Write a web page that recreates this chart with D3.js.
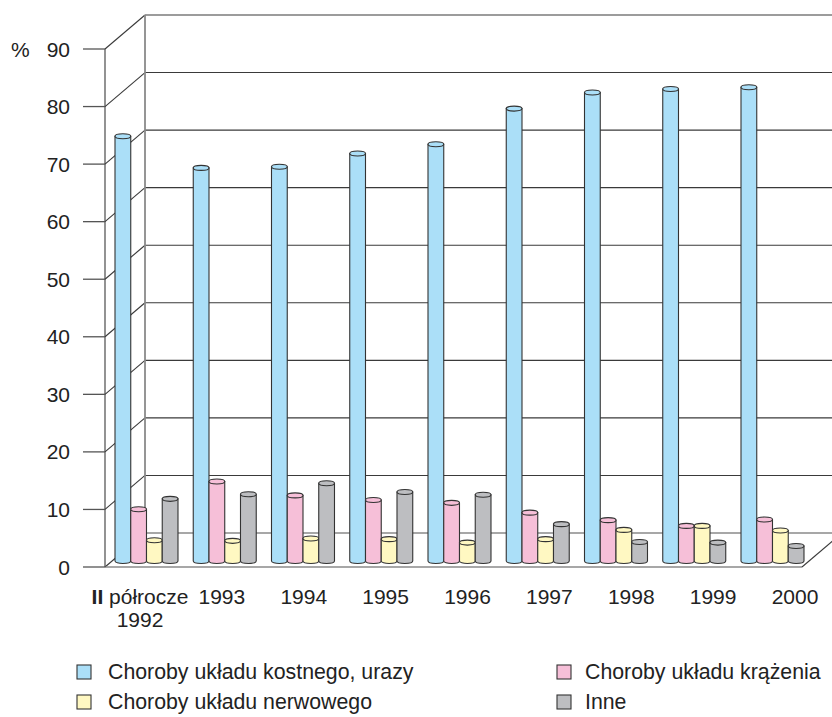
<!DOCTYPE html>
<html>
<head>
<meta charset="utf-8">
<script src="https://cdn.jsdelivr.net/npm/d3@7"></script>
<style>
  html, body { margin: 0; padding: 0; background: #fff; }
  svg { display: block; font-family: "Liberation Sans", Arial, Helvetica, sans-serif; }
</style>
</head>
<body>
<svg id="chart" width="832" height="717"></svg>
<script>
// ---- data ----
const categories = ["II półrocze 1992", "1993", "1994", "1995", "1996", "1997", "1998", "1999", "2000"];
const seriesNames = ["Choroby układu kostnego, urazy", "Choroby układu krążenia", "Choroby układu nerwowego", "Inne"];
const kostny   = [73.8, 68.3, 68.5, 70.8, 72.4, 78.6, 81.4, 82.0, 82.3];
const krazenia = [9.0, 13.8, 11.4, 10.6, 10.1, 8.4, 7.1, 6.1, 7.2];
const nerwowy  = [3.6, 3.5, 3.9, 3.8, 3.2, 3.8, 5.4, 6.1, 5.3];
const inne     = [10.8, 11.6, 13.5, 12.0, 11.5, 6.4, 3.3, 3.2, 2.6];
const tickValues = [0, 10, 20, 30, 40, 50, 60, 70, 80, 90];
const colors = ["#abdff8", "#f6bfd8", "#fff8c2", "#bdbec1"];

const seriesValues = [kostny, krazenia, nerwowy, inne];

const svg = d3.select("#chart");
const W = 832;

// ---- geometry ----
const depthX = 40, depthY = -34;     // oblique offset of back wall
const barShiftY = -6;                // bars placed slightly behind the front edge
const y = d3.scaleLinear().domain([0, 90]).range([567, 49]);
const axisX = 105;
const floorRight = 802;

const groupStep = 78.25;
const x = d3.scaleBand().domain(categories)
  .range([107.37, 107.37 + groupStep * 9])
  .paddingInner(0.195).paddingOuter(0.0975);
const xs = d3.scaleBand().domain(seriesNames).range([0, x.bandwidth()]).padding(0);

const labelX = d3.scalePoint().domain(categories).range([140, 795]);

const g = svg.append("g");

// back wall gridlines
g.selectAll("line.grid").data(tickValues).enter().append("line")
  .attr("x1", axisX + depthX).attr("x2", W)
  .attr("y1", d => y(d) + depthY).attr("y2", d => y(d) + depthY)
  .attr("stroke", d => d === 0 ? "#8a8a8a" : "#3a3a3a").attr("stroke-width", d => d === 0 ? 1.6 : 1.1);

// diagonals on left side wall
g.selectAll("line.diag").data(tickValues).enter().append("line")
  .attr("x1", axisX).attr("x2", axisX + depthX)
  .attr("y1", d => y(d)).attr("y2", d => y(d) + depthY)
  .attr("stroke", "#3a3a3a").attr("stroke-width", 1.1);

// back wall vertical
g.append("line")
  .attr("x1", axisX + depthX).attr("x2", axisX + depthX)
  .attr("y1", y(90) + depthY).attr("y2", y(0) + depthY)
  .attr("stroke", "#8a8a8a").attr("stroke-width", 1.8);

// floor front edge and right edge
g.append("line")
  .attr("x1", axisX).attr("x2", floorRight)
  .attr("y1", y(0)).attr("y2", y(0))
  .attr("stroke", "#8a8a8a").attr("stroke-width", 1.6);
g.append("line")
  .attr("x1", floorRight).attr("x2", floorRight + depthX)
  .attr("y1", y(0)).attr("y2", y(0) + depthY)
  .attr("stroke", "#3a3a3a").attr("stroke-width", 1.1);

// front axis line + ticks
g.append("line")
  .attr("x1", axisX).attr("x2", axisX)
  .attr("y1", y(90)).attr("y2", y(0))
  .attr("stroke", "#3a3a3a").attr("stroke-width", 1.1);
g.selectAll("line.tick").data(tickValues).enter().append("line")
  .attr("x1", 83).attr("x2", axisX)
  .attr("y1", d => y(d)).attr("y2", d => y(d))
  .attr("stroke", "#555").attr("stroke-width", 1.3);

// tick labels
g.selectAll("text.tl").data(tickValues).enter().append("text")
  .attr("x", 70).attr("y", d => y(d) + 7.5)
  .attr("text-anchor", "end").attr("font-size", 21).attr("fill", "#222")
  .text(d => d);
g.append("text").attr("x", 11).attr("y", y(90) + 7.5)
  .attr("font-size", 21).attr("fill", "#222").text("%");

// cylinders
const ry = 2.5;
const bars = [];
categories.forEach((c, i) => {
  seriesNames.forEach((s, j) => {
    bars.push({ c, s, j, v: seriesValues[j][i] });
  });
});
const barG = g.append("g");
bars.forEach(b => {
  const bx = x(b.c) + xs(b.s);
  const w = xs.bandwidth();
  const rx = w / 2;
  const yb = y(0) + barShiftY;
  const yt = y(b.v) + barShiftY;
  const cg = barG.append("g");
  cg.append("path")
    .attr("d", `M${bx},${yt} L${bx},${yb} A${rx},${ry} 0 0 0 ${bx + w},${yb} L${bx + w},${yt} Z`)
    .attr("fill", colors[b.j]).attr("stroke", "#333").attr("stroke-width", 1.1);
  cg.append("ellipse")
    .attr("cx", bx + rx).attr("cy", yt).attr("rx", rx).attr("ry", ry)
    .attr("fill", colors[b.j]).attr("stroke", "#333").attr("stroke-width", 1.1);
});

// category labels
const cl = g.selectAll("text.cat").data(categories).enter().append("text")
  .attr("x", d => labelX(d)).attr("y", 604)
  .attr("text-anchor", "middle").attr("font-size", 21).attr("fill", "#222");
cl.each(function (d, i) {
  const t = d3.select(this);
  if (i === 0) {
    t.append("tspan").attr("font-weight", "bold").text("II");
    t.append("tspan").text(" półrocze");
    t.append("tspan").attr("x", labelX(d)).attr("dy", 23).text("1992");
  } else {
    t.text(d);
  }
});

// legend
const legendPos = [
  { x: 77, y: 665 }, { x: 557, y: 665 },
  { x: 77, y: 695 }, { x: 557, y: 695 }
];
const leg = g.selectAll("g.leg").data(seriesNames).enter().append("g")
  .attr("transform", (d, i) => `translate(${legendPos[i].x},${legendPos[i].y})`);
leg.append("rect").attr("width", 14).attr("height", 14)
  .attr("fill", (d, i) => colors[i]).attr("stroke", "#333").attr("stroke-width", 1.1);
leg.append("text").attr("x", (d, i) => i % 2 === 0 ? 31 : 28).attr("y", 14)
  .attr("font-size", 21.3).attr("fill", "#222").text(d => d);
</script>
</body>
</html>
